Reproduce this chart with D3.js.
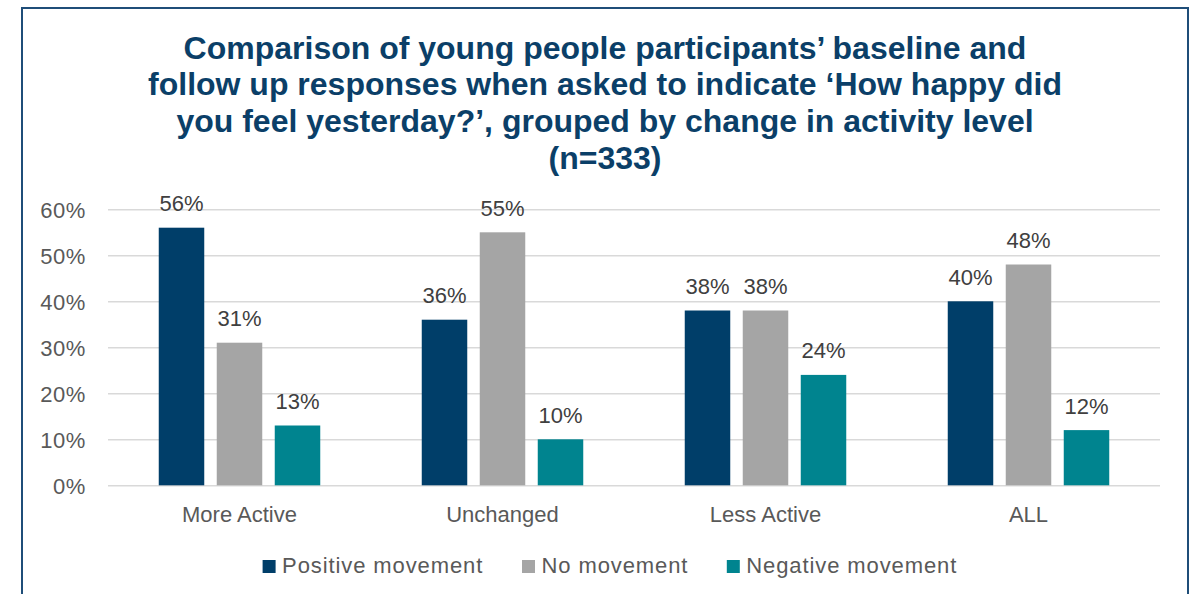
<!DOCTYPE html>
<html>
<head>
<meta charset="utf-8">
<script src="https://cdn.jsdelivr.net/npm/d3@7"></script>
<style>
  html, body { margin: 0; padding: 0; background: #ffffff; }
  svg { display: block; }
</style>
</head>
<body>
<svg id="chart" width="1197" height="594"></svg>
<script>
// Activity-level groups and the three movement series (percent of participants)
const categories = ["More Active", "Unchanged", "Less Active", "ALL"];
const seriesNames = ["Positive movement", "No movement", "Negative movement"];
const positiveMovement = [56, 36, 38, 40];
const noMovement = [31, 55, 38, 48];
const negativeMovement = [13, 10, 24, 12];
const yTicks = [0, 10, 20, 30, 40, 50, 60];
const titleLines = [
  "Comparison of young people participants\u2019 baseline and",
  "follow up responses when asked to indicate \u2018How happy did",
  "you feel yesterday?\u2019, grouped by change in activity level",
  "(n=333)"
];

const seriesValues = [positiveMovement, noMovement, negativeMovement];
const colors = ["#003E69", "#A5A5A5", "#00848F"];

const svg = d3.select("#chart");

// Outer frame
svg.append("rect")
  .attr("x", 22).attr("y", 8)
  .attr("width", 1166).attr("height", 600)
  .attr("fill", "none")
  .attr("stroke", "#1F4E79")
  .attr("stroke-width", 2);

// Title
const title = svg.append("text")
  .attr("text-anchor", "middle")
  .attr("font-family", "'Liberation Sans', Arial, sans-serif")
  .attr("font-weight", "bold")
  .attr("font-size", 32)
  .attr("fill", "#0B3F68");
titleLines.forEach((line, i) => {
  title.append("tspan")
    .attr("x", 605)
    .attr("y", 58.5 + i * 36.7)
    .text(line);
});

// Plot area
const plot = { left: 108, right: 1160, top: 209.3, bottom: 485.3 };

const y = d3.scaleLinear().domain([0, 60]).range([plot.bottom, plot.top]);
const x0 = d3.scaleBand().domain(categories).range([plot.left, plot.right]).padding(0);
const x1 = d3.scaleBand().domain(seriesNames)
  .range([0, x0.bandwidth()])
  .paddingInner(0.2155)
  .paddingOuter(0.875);

// Gridlines and percentage ticks
const yAxis = d3.axisLeft(y)
  .tickValues(yTicks)
  .tickSize(-(plot.right - plot.left))
  .tickFormat(d => d + "%")
  .tickPadding(22);

const gAxis = svg.append("g")
  .attr("transform", `translate(${plot.left},0)`)
  .call(yAxis);
gAxis.select(".domain").remove();
gAxis.selectAll(".tick line")
  .attr("stroke", "#D9D9D9")
  .attr("stroke-width", 1.5);
gAxis.selectAll(".tick text")
  .attr("font-family", "'Liberation Sans', Arial, sans-serif")
  .attr("font-size", 22)
  .attr("letter-spacing", 0.6)
  .attr("fill", "#595959")
  .attr("dy", "0.35em");

// Bars
const rows = categories.map((c, ci) => ({
  category: c,
  values: seriesNames.map((s, si) => ({ series: s, si, value: seriesValues[si][ci] }))
}));

const groups = svg.append("g").selectAll("g")
  .data(rows)
  .join("g")
  .attr("transform", d => `translate(${x0(d.category)},0)`);

groups.selectAll("rect")
  .data(d => d.values)
  .join("rect")
  .attr("x", d => x1(d.series))
  .attr("y", d => y(d.value))
  .attr("width", x1.bandwidth())
  .attr("height", d => y(0) - y(d.value))
  .attr("fill", d => colors[d.si]);

// Value labels
groups.selectAll("text")
  .data(d => d.values)
  .join("text")
  .attr("x", d => x1(d.series) + x1.bandwidth() / 2)
  .attr("y", d => y(d.value) - 16.5)
  .attr("text-anchor", "middle")
  .attr("font-family", "'Liberation Sans', Arial, sans-serif")
  .attr("font-size", 22)
  .attr("fill", "#404040")
  .text(d => d.value + "%");

// Category labels
const xAxis = d3.axisBottom(x0).tickSize(0).tickPadding(0);
const gx = svg.append("g")
  .attr("transform", `translate(0,${plot.bottom})`)
  .call(xAxis);
gx.select(".domain").remove();
gx.selectAll(".tick text")
  .attr("y", 37)
  .attr("dy", 0)
  .attr("font-family", "'Liberation Sans', Arial, sans-serif")
  .attr("font-size", 22)
  .attr("fill", "#595959");

// Legend
const legendX = [262.6, 522, 726.8];
const legend = svg.append("g").selectAll("g")
  .data(seriesNames)
  .join("g")
  .attr("transform", (d, i) => `translate(${legendX[i]},560)`);
legend.append("rect")
  .attr("width", 13).attr("height", 13)
  .attr("fill", (d, i) => colors[i]);
legend.append("text")
  .attr("x", 19.5)
  .attr("y", 13)
  .attr("font-family", "'Liberation Sans', Arial, sans-serif")
  .attr("font-size", 22)
  .attr("letter-spacing", 0.9)
  .attr("fill", "#595959")
  .text(d => d);
</script>
</body>
</html>
